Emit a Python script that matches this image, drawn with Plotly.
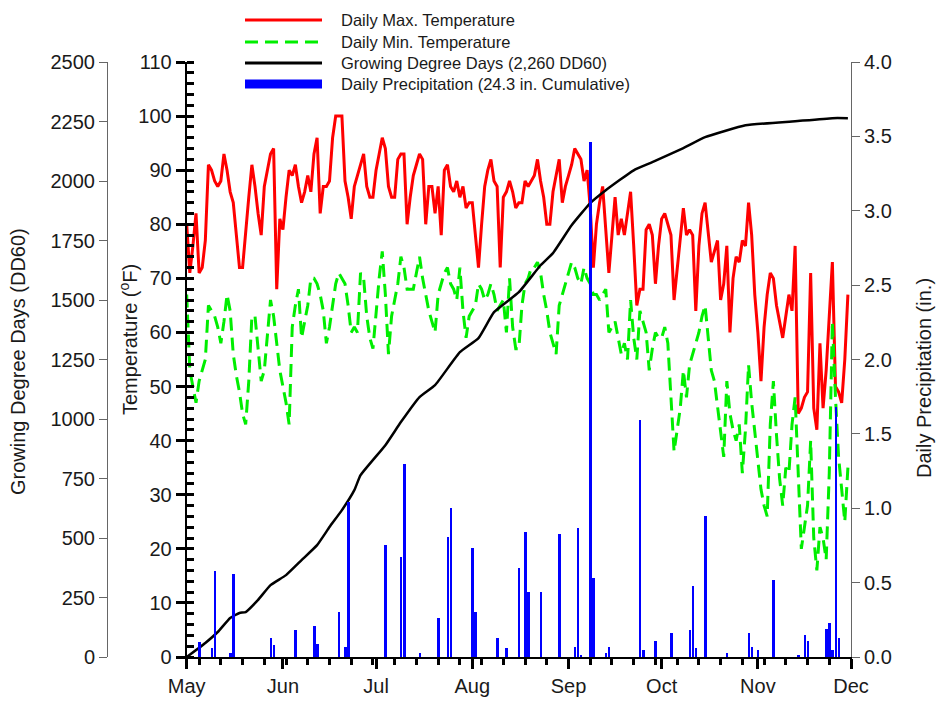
import pandas as pd
import plotly.graph_objects as go

START = "2013-05-01"

# Daily maximum temperature (F), May 1 - Nov 30
tmax = [80, 71, 76, 82, 71, 72, 77, 91, 90, 88,
        87, 88, 93, 90, 86, 84, 78, 72, 72, 79,
        85, 91, 87, 82, 78, 87, 90, 93, 94, 68,
        81, 79, 85, 90, 89, 91, 87, 84, 86, 89,
        86, 93, 96, 82, 87, 87, 88, 96, 100, 100,
        100, 88, 85, 81, 87, 89, 91, 93, 87, 85,
        85, 90, 93, 96, 94, 87, 85, 85, 92, 93,
        93, 80, 85, 89, 91, 93, 92, 80, 87, 87,
        82, 87, 78, 90, 91, 87, 86, 88, 85, 87,
        83, 84, 84, 78, 72, 80, 87, 90, 92, 88,
        87, 72, 85, 86, 88, 86, 83, 84, 84, 88,
        87, 88, 89, 92, 88, 85, 80, 80, 86, 89,
        92, 84, 87, 89, 91, 94, 93, 92, 88, 90,
        83, 72, 80, 84, 87, 78, 71, 78, 85, 78,
        81, 78, 82, 86, 76, 65, 68, 68, 79,
        80, 78, 69, 76, 81, 82, 80, 78, 66, 72,
        77, 83, 78, 79, 78, 64, 76, 82, 84, 78,
        73, 75, 77, 66, 69, 76, 60, 70, 74, 73,
        77, 76, 84, 78, 67, 60, 51, 61, 67, 71,
        70, 65, 62, 59, 63, 67, 64, 76, 45, 46,
        48, 49, 71, 46, 42, 58, 46, 53, 63, 73,
        50, 49, 47, 55, 67]

# Daily minimum temperature (F)
tmin = [67, 53, 50, 47, 51, 53, 55, 65, 64, 63,
        61, 58, 62, 67, 64, 56, 52, 49, 45, 43,
        51, 63, 63, 57, 51, 53, 60, 66, 63, 58,
        53, 50, 47, 43, 61, 65, 68, 59, 62, 65,
        70, 70, 69, 67, 64, 58, 61, 65, 69, 71,
        70, 69, 65, 60, 61, 60, 71, 70, 63, 59,
        57, 64, 70, 75, 67, 56, 63, 66, 69, 74,
        72, 68, 68, 68, 71, 74, 70, 67, 64, 62,
        60, 67, 69, 71, 72, 69, 68, 66, 72, 64,
        59, 63, 64, 65, 69, 68, 66, 67, 69, 67,
        64, 65, 66, 60, 70, 61, 57, 57, 65, 69,
        70, 72, 72, 73, 71, 67, 64, 60, 58, 56,
        65, 67, 69, 71, 73, 72, 70, 69, 72, 70,
        69, 67, 67, 66, 67, 68, 60, 61, 62, 59,
        56, 58, 55, 66, 59, 55, 64, 62, 60,
        53, 57, 60, 59, 59, 61, 58, 48, 38, 42,
        46, 53, 48, 54, 56, 58, 60, 63, 65, 59,
        53, 51, 46, 42, 37, 51, 45, 42, 40, 43,
        34, 42, 54, 47, 42, 37, 31, 28, 26, 43,
        51, 41, 33, 28, 35, 34, 43, 48, 34, 20,
        24, 28, 40, 22, 16, 24, 22, 18, 34, 62,
        48, 37, 31, 25, 35]

# Cumulative growing degree days (DD60), read at these day offsets from May 1
gdd_day = [0, 6, 10, 14, 17, 19, 23, 27, 32, 37, 42, 46, 50, 54, 56, 64, 69, 75,
           80, 88, 94, 99, 107, 114, 118, 124, 130, 135, 144, 150, 160, 167, 180,
           196, 208, 213]
gdd = [0, 59, 105, 164, 185, 189, 240, 302, 344, 407, 470, 546, 617, 701, 764,
       890, 987, 1092, 1142, 1281, 1340, 1449, 1533, 1646, 1697, 1814, 1907, 1961,
       2045, 2079, 2138, 2184, 2234, 2251, 2264, 2264]

# Daily precipitation (in.), day offsets from May 1
precip_day = [4, 8, 9, 14, 15, 27, 28, 35, 41, 42, 49, 51, 52, 64, 69, 70, 75, 81,
              84, 85, 92, 93, 100, 103, 107, 109, 110, 114, 120, 125, 126, 127, 130,
              131, 135, 136, 146, 147, 151, 156, 162, 163, 164, 167, 174, 181, 182,
              184, 189, 197, 199, 200, 206, 207, 208, 209, 210]
precip = [0.10, 0.06, 0.58, 0.03, 0.56, 0.13, 0.08, 0.18, 0.21, 0.09, 0.30, 0.07,
          1.04, 0.75, 0.67, 1.30, 0.03, 0.26, 0.81, 1.00, 0.73, 0.30, 0.13, 0.06,
          0.60, 0.84, 0.44, 0.44, 0.83, 0.07, 0.87, 0.01, 3.46, 0.53, 0.03, 0.07,
          1.59, 0.05, 0.11, 0.16, 0.18, 0.48, 0.06, 0.95, 0.03, 0.16, 0.07, 0.05,
          0.52, 0.01, 0.15, 0.11, 0.19, 0.23, 0.05, 1.68, 0.13]

legend_labels = ["Daily Max. Temperature", "Daily Min. Temperature",
                 "Growing Degree Days (2,260 DD60)",
                 "Daily Precipitation (24.3 in. Cumulative)"]

RED, GREEN, BLACK, BLUE = "#ff0000", "#00ee00", "#000000", "#0000ff"

t0 = pd.Timestamp(START)
dates = pd.date_range(START, periods=len(tmax), freq="D")
gdd_dates = t0 + pd.to_timedelta(gdd_day, unit="D")
precip_dates = t0 + pd.to_timedelta(precip_day, unit="D")

W, H = 938, 702
def px(x):
    return x / W
def py(y):
    return 1 - y / H

FONT = "Arial, Liberation Sans, sans-serif"
TXT = "#1a1a1a"
DAY_MS = 86400000
DASH = "13px,7px"

fig = go.Figure()
fig.add_trace(go.Scatter(x=dates, y=tmax, mode="lines", line=dict(color=RED, width=3),
                         name=legend_labels[0], showlegend=False))
fig.add_trace(go.Scatter(x=dates, y=tmin, mode="lines",
                         line=dict(color=GREEN, width=3, dash=DASH),
                         name=legend_labels[1], showlegend=False))
fig.add_trace(go.Scatter(x=gdd_dates, y=gdd, mode="lines", yaxis="y2",
                         line=dict(color=BLACK, width=2.5, shape="spline", smoothing=0.4),
                         name=legend_labels[2], showlegend=False))
fig.add_trace(go.Bar(x=precip_dates, y=precip, yaxis="y3", marker_color=BLUE,
                     marker_line_width=0, width=0.8 * DAY_MS,
                     name=legend_labels[3], showlegend=False))

x0, x1 = 186.7, 851
y_top, y_bot = 62, 657

fig.update_layout(
    template="none",
    width=W, height=H, autosize=False,
    margin=dict(l=0, r=0, t=0, b=0, pad=0),
    paper_bgcolor="white", plot_bgcolor="white",
    font=dict(family=FONT, size=20, color=TXT),
    showlegend=False,
    xaxis=dict(
        domain=[px(x0), px(x1)], automargin=False,
        range=["2013-05-01", "2013-12-01"],
        type="date", dtick="M1", tick0="2013-05-01", tickformat="%b",
        ticks="outside", ticklen=10, tickwidth=3, tickcolor="black",
        showline=True, linecolor="black", linewidth=2,
        showgrid=False, zeroline=False,
        tickfont=dict(size=20, color=TXT),
        minor=dict(tick0="2013-05-05", dtick=7 * DAY_MS, ticks="outside",
                   ticklen=6, tickwidth=3, tickcolor="black", showgrid=False),
    ),
    yaxis=dict(
        domain=[py(y_bot), py(y_top)], automargin=False,
        range=[0, 110], dtick=10,
        ticks="outside", ticklen=9, tickwidth=3, tickcolor="black",
        showline=True, linecolor="black", linewidth=2,
        showgrid=False, zeroline=False,
        tickfont=dict(size=20, color=TXT),
        minor=dict(dtick=2, ticks="inside", ticklen=7, tickwidth=3,
                   tickcolor="black", showgrid=False),
    ),
    yaxis2=dict(
        overlaying="y", anchor="free", position=px(107), side="left",
        automargin=False,
        range=[0, 2500], dtick=250,
        ticks="outside", ticklen=8, tickwidth=1, tickcolor="#666666",
        showline=True, linecolor="#666666", linewidth=1,
        showgrid=False, zeroline=False,
        tickfont=dict(size=20, color=TXT),
    ),
    yaxis3=dict(
        overlaying="y", anchor="x", side="right", automargin=False,
        range=[0, 4.0], dtick=0.5, tickformat=".1f",
        ticks="outside", ticklen=8, tickwidth=1, tickcolor="#666666",
        showline=True, linecolor="#666666", linewidth=1,
        showgrid=False, zeroline=False,
        tickfont=dict(size=20, color=TXT),
    ),
    bargap=0,
)

# Axis titles
for text, tx, ty in [("Growing Degree Days (DD60)", 18, 362),
                     ("Temperature (<sup>o</sup>F)", 128, 340),
                     ("Daily Precipitation (in.)", 924, 378)]:
    fig.add_annotation(text=text, x=px(tx), y=py(ty), xref="paper", yref="paper",
                       xanchor="center", yanchor="middle", showarrow=False,
                       textangle=-90, font=dict(size=20, color=TXT))

# Manual legend
rows = [20, 42, 63, 84]
styles = [dict(color=RED, width=3), dict(color=GREEN, width=3, dash=DASH),
          dict(color=BLACK, width=3), dict(color=BLUE, width=9)]
for ry, st, lab in zip(rows, styles, legend_labels):
    fig.add_shape(type="line", xref="paper", yref="paper",
                  x0=px(245), x1=px(322), y0=py(ry), y1=py(ry), line=st)
    fig.add_annotation(text=lab, x=px(339), y=py(ry), xref="paper", yref="paper",
                       xanchor="left", yanchor="middle", showarrow=False,
                       font=dict(size=16.5, color=TXT))

# Remove the page's default body margin so the figure sits at the window's corner.
fig.write_html("out.html",
               config={"displayModeBar": False},
               post_script="document.body.style.margin='0';"
                           "document.body.style.overflow='hidden';")
